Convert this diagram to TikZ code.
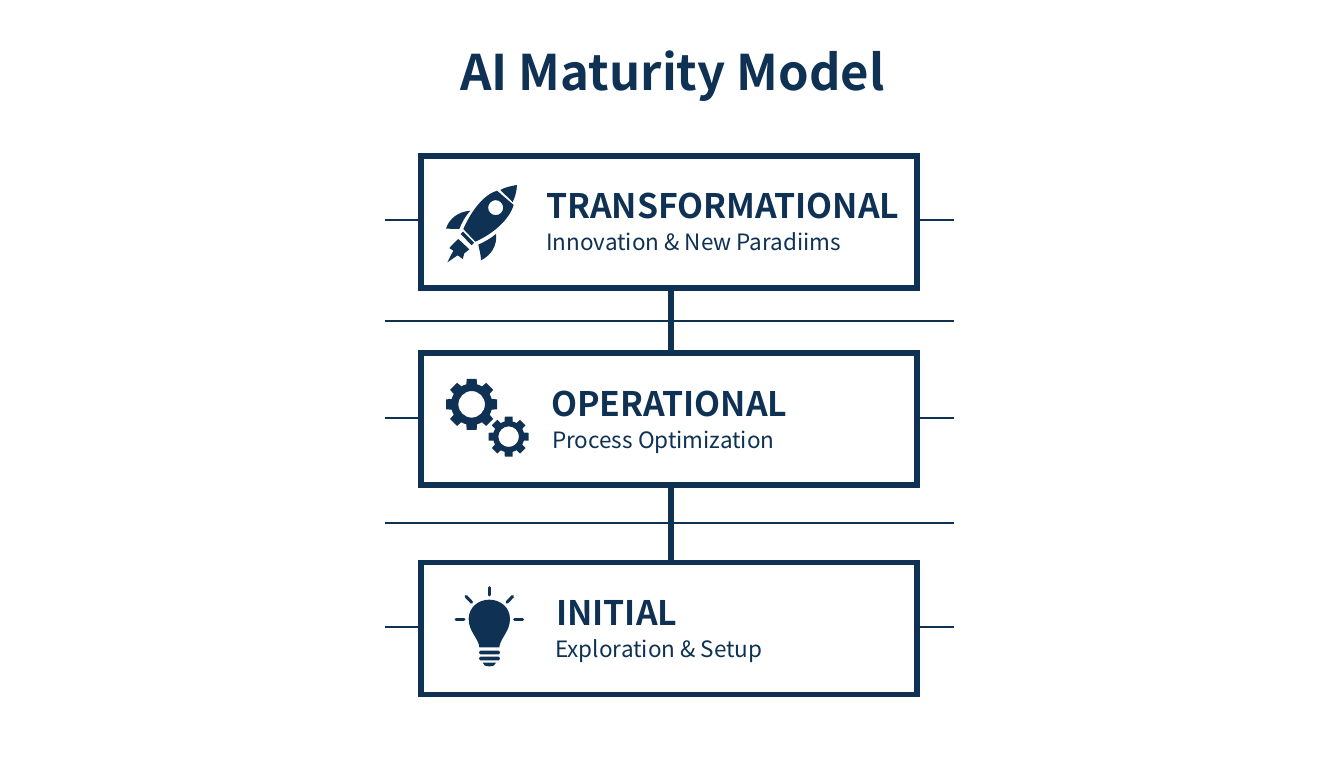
\documentclass[tikz,border=0pt]{standalone}
\usepackage{fontspec}
\setmainfont{Noto Sans CJK JP}[BoldFont={Noto Sans CJK JP Bold}]
\usetikzlibrary{calc}
\definecolor{navy}{HTML}{0E3154}
\newcommand{\gearpath}[5]{% cx cy outer root hole
  \begin{scope}[shift={(#1,#2)}]
  \fill[navy,even odd rule] (-22.5:#4)
  \foreach \a in {0,45,...,315} {
    -- (\a-22.5:#4) -- (\a-15:#4) -- (\a-11:#3) -- (\a+11:#3) -- (\a+15:#4) -- (\a+22.5:#4)
  } -- cycle (0,0) circle[radius=#5];
  \end{scope}
}
\tikzset{
  stage/.style={draw=navy,line width=5.5pt,fill=white,minimum width=496pt,minimum height=132pt,outer sep=0pt,inner sep=0pt},
  link/.style={draw=navy,line width=6pt},
  rule/.style={draw=navy,line width=2pt},
  head/.style={text=navy,font=\fontsize{33.8}{36}\selectfont\bfseries,anchor=base west,inner sep=0pt},
  sub/.style={text=navy,font=\fontsize{22.5}{26}\selectfont,anchor=base west,inner sep=0pt},
  ray/.style={draw=navy,line width=3pt,line cap=round}
}
\begin{document}
\begin{tikzpicture}[x=1pt,y=-1pt]
\useasboundingbox (0,0) rectangle (1344,768);
\fill[white] (0,0) rectangle (1344,768);
\node[text=navy,font=\fontsize{49}{56}\selectfont\bfseries,inner sep=0pt,anchor=base] (title) at (672.5,90) {AI Maturity Model};
% free ends
\coordinate (a1) at (385,220); \coordinate (a2) at (954,220);
\coordinate (b1) at (385,321); \coordinate (b2) at (954,321);
\coordinate (c1) at (385,418); \coordinate (c2) at (954,418);
\coordinate (d1) at (385,523); \coordinate (d2) at (954,523);
\coordinate (e1) at (385,627); \coordinate (e2) at (954,627);
\draw[rule] (b1) -- (b2);
\draw[rule] (d1) -- (d2);
\node[stage] (top) at (669,222) {};
\node[stage] (mid) at (669,419) {};
\node[stage] (low) at (669,628.5) {};
\draw[link] ([xshift=2pt]top.south) -- ([xshift=2pt]mid.north);
\draw[link] ([xshift=2pt]mid.south) -- ([xshift=2pt]low.north);
\draw[rule] (a1) -- (a1-|top.west);
\draw[rule] (a2) -- (a2-|top.east);
\draw[rule] (c1) -- (c1-|mid.west);
\draw[rule] (c2) -- (c2-|mid.east);
\draw[rule] (e1) -- (e1-|low.west);
\draw[rule] (e2) -- (e2-|low.east);
% texts
\node[head] (t1) at (546,218) {TRANSFORMATIONAL};
\node[sub] (s1) at (546,250) {Innovation \& New Paradiims};
\node[head] (t2) at (551,416) {OPERATIONAL};
\node[sub] (s2) at (552,448) {Process Optimization};
\node[head] (t3) at (556,625) {INITIAL};
\node[sub] (s3) at (555,657) {Exploration \& Setup};
% rocket
\begin{scope}[shift={(420,160)},x=0.3333pt,y=-0.3333pt]
\fill[navy] (241,90) .. controls (255,82) and (272,78) .. (291,75) .. controls (290,95) and (285,112) .. (278,126) -- cycle;
\fill[navy,even odd rule] (231,92) .. controls (192,104) and (155,150) .. (130,207) -- (166,245) .. controls (222,220) and (268,178) .. (281,135) -- cycle (227,143) circle[radius=7.5pt];
\fill[navy] (122,222) -- (129,215) -- (162,248) -- (155,256) -- cycle;
\fill[navy] (115,237) -- (148,268) -- (133,280) -- (128,297) -- (113,286) -- (82,307) -- (100,272) -- (88,264) -- (103,248) -- cycle;
\fill[navy] (78,206) .. controls (88,175) and (115,155) .. (151,152) .. controls (135,170) and (125,188) .. (118,207) -- cycle;
\fill[navy] (228,222) .. controls (232,255) and (215,285) .. (183,301) .. controls (183,285) and (178,270) .. (175,254) .. controls (195,245) and (212,235) .. (228,222) -- cycle;
\end{scope}
% gears
\begin{scope}[shift={(425,360)},x=0.3333pt,y=-0.3333pt]
\gearpath{140}{133}{78}{62}{13.3pt}
\gearpath{251}{230}{61}{47}{10.3pt}
\end{scope}
% bulb
\begin{scope}[shift={(430,575)},x=0.3333pt,y=-0.3333pt]
\fill[navy] (148,217) .. controls (146,190) and (116,170) .. (116,132) .. controls (116,98) and (144,74) .. (178,74) .. controls (212,74) and (240,98) .. (240,132) .. controls (240,170) and (210,190) .. (208,217) -- cycle;
\draw[ray] (178,38) -- (178,60);
\draw[ray] (108,64) -- (125,82);
\draw[ray] (248,64) -- (231,82);
\draw[ray] (78,134) -- (102,134);
\draw[ray] (254,134) -- (278,134);
\fill[navy,rounded corners=1.5pt] (147,227) rectangle (210,238);
\fill[navy,rounded corners=1.5pt] (147,245) rectangle (210,256);
\fill[navy] (158,263) -- (198,263) .. controls (196,271) and (190,274) .. (178,274) .. controls (166,274) and (160,271) .. (158,263) -- cycle;
\end{scope}
\end{tikzpicture}
\end{document}
